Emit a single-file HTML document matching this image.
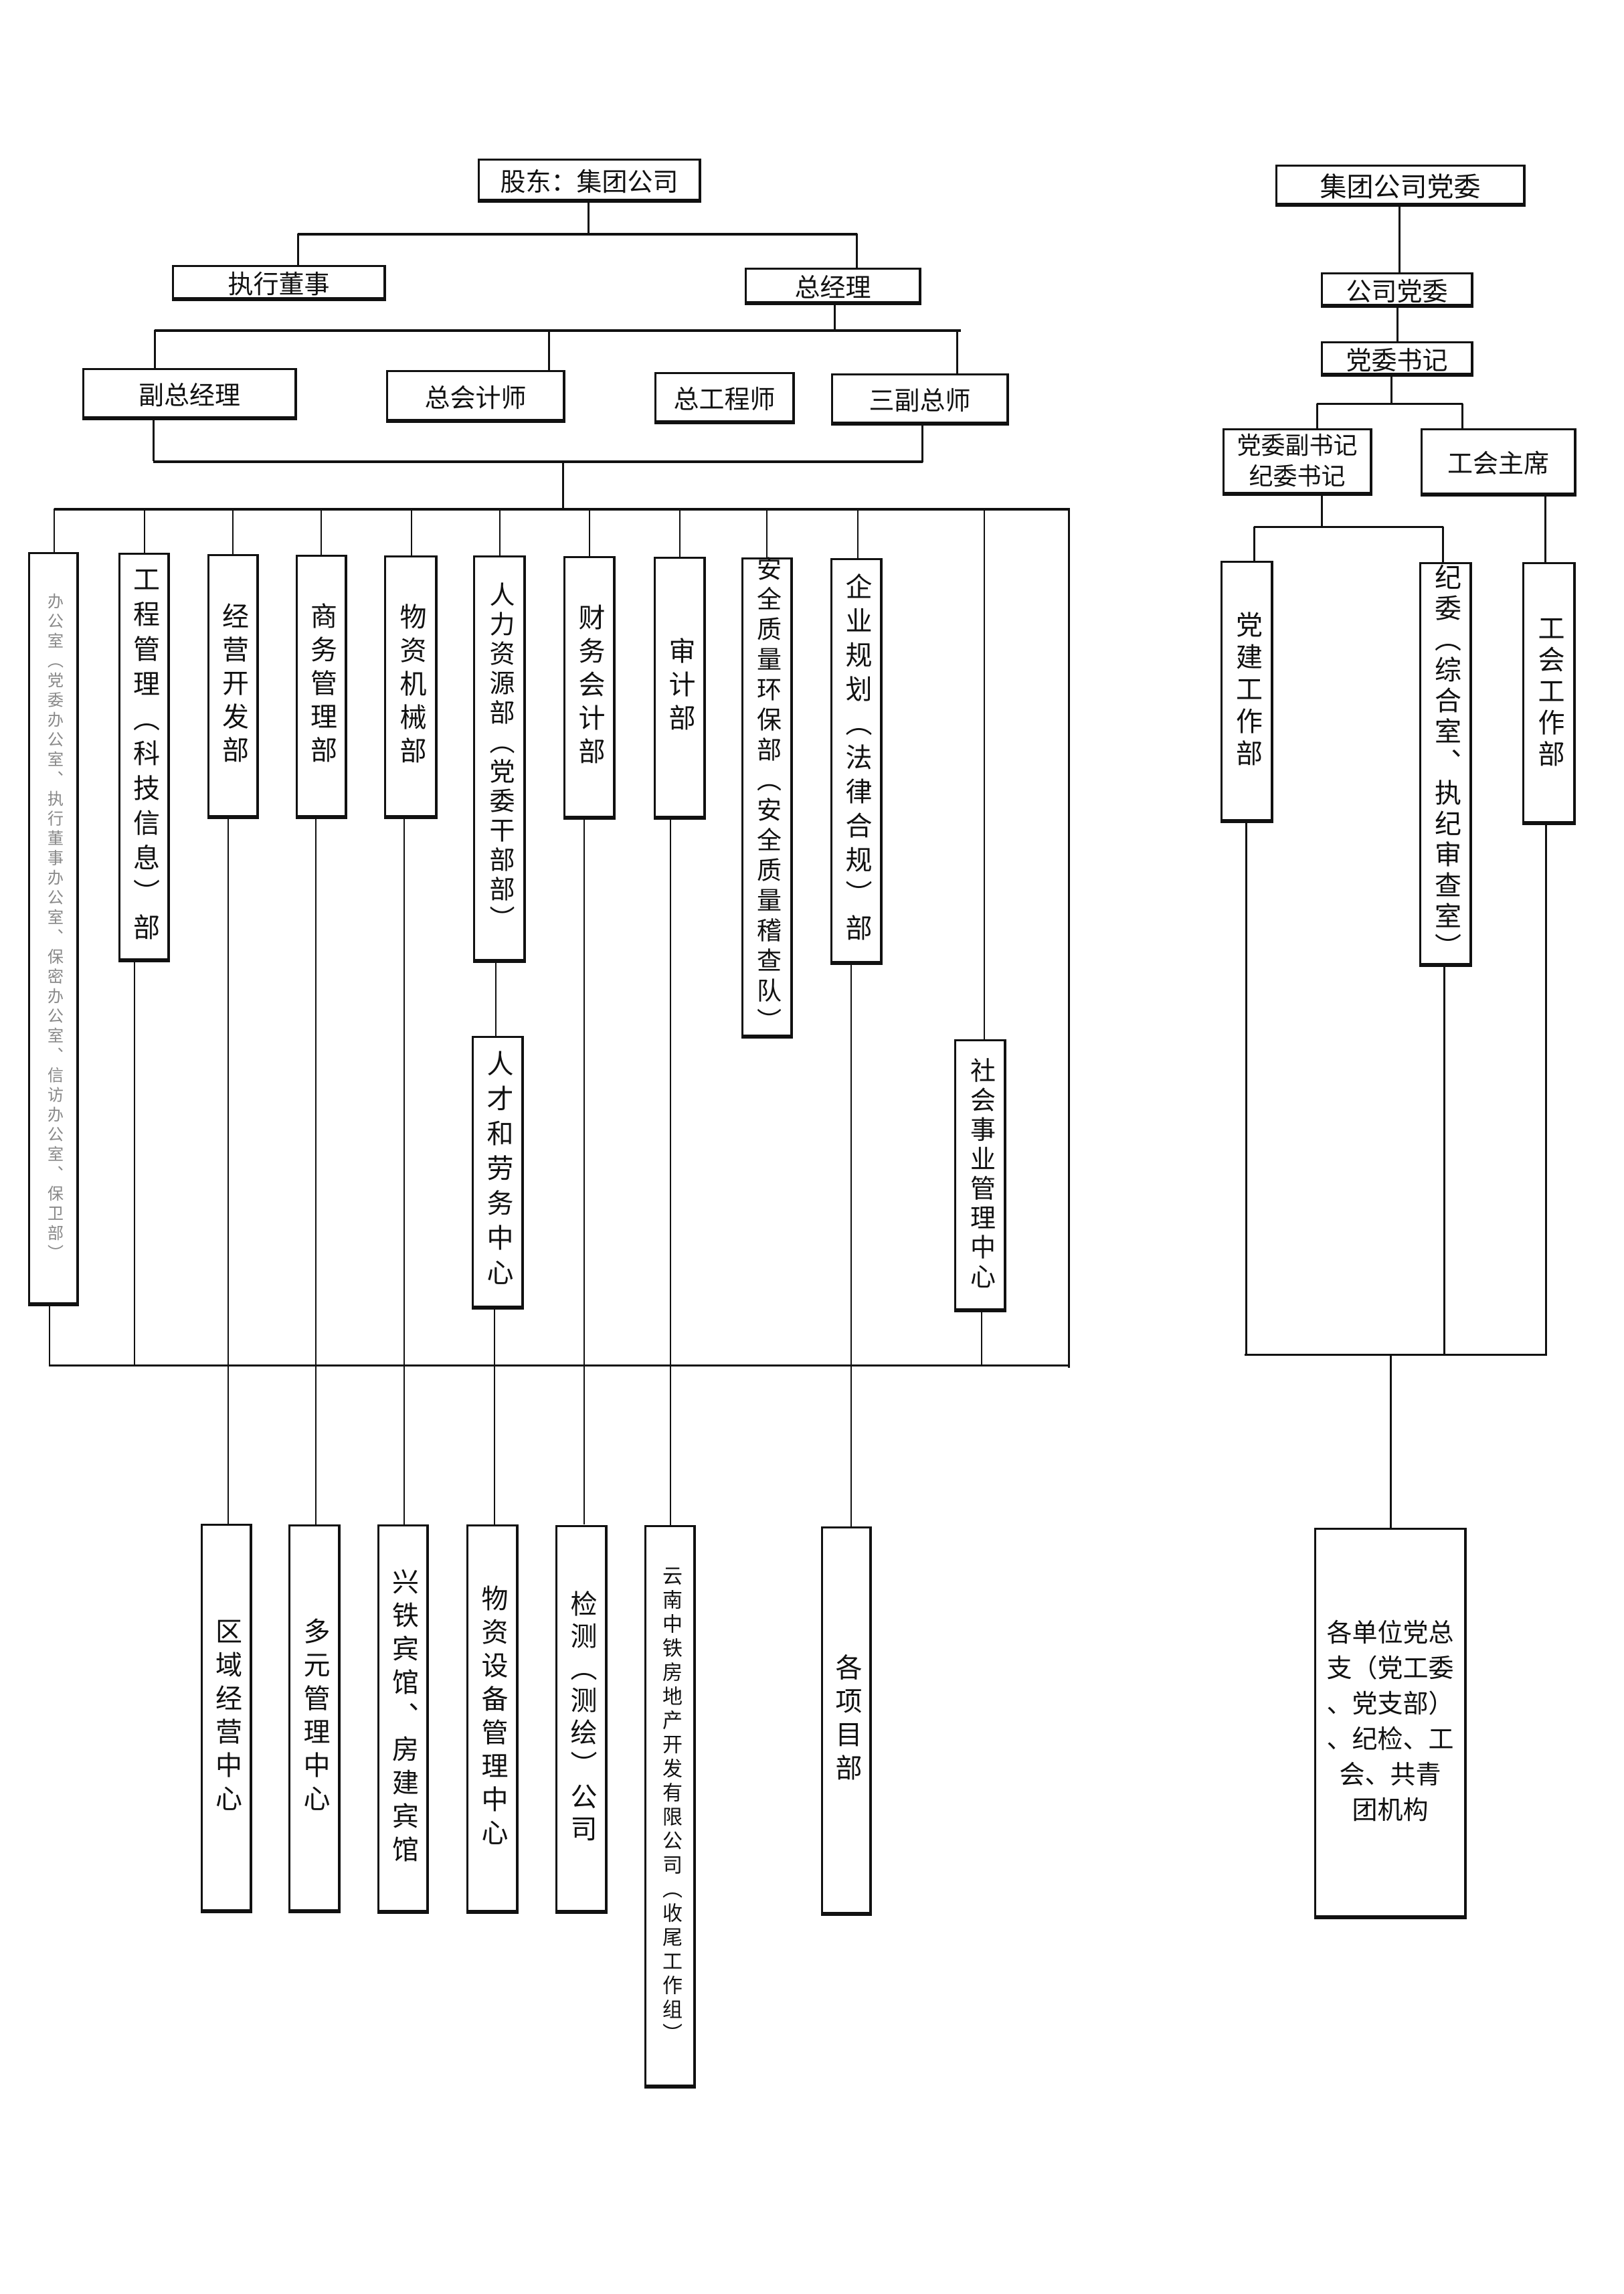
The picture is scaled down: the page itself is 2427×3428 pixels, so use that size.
<!DOCTYPE html>
<html><head><meta charset="utf-8">
<style>
html,body{margin:0;padding:0;background:#fff;}
body{width:2427px;height:3428px;position:relative;overflow:hidden;font-family:"Liberation Sans","Noto Sans CJK SC",sans-serif;color:#111;}
.b{position:absolute;box-sizing:border-box;border:3px solid #111;border-bottom-width:6px;border-right-width:4px;background:#fff;display:flex;align-items:center;justify-content:center;}
.h{font-size:38px;white-space:nowrap;}
.v span{writing-mode:vertical-rl;text-orientation:upright;font-size:40px;letter-spacing:10px;line-height:1;white-space:nowrap;}
.l{position:absolute;background:#111;}
</style></head><body>

<!-- lines left -->
<div class="l" style="left:878px;top:302px;width:3px;height:48px"></div>
<div class="l" style="left:445px;top:348px;width:836px;height:4px"></div>
<div class="l" style="left:444px;top:349px;width:3px;height:48px"></div>
<div class="l" style="left:1279px;top:349px;width:3px;height:52px"></div>
<div class="l" style="left:1246px;top:455px;width:3px;height:39px"></div>
<div class="l" style="left:231px;top:492px;width:1205px;height:4px"></div>
<div class="l" style="left:230px;top:493px;width:3px;height:58px"></div>
<div class="l" style="left:819px;top:493px;width:3px;height:61px"></div>
<div class="l" style="left:1429px;top:493px;width:3px;height:66px"></div>
<div class="l" style="left:228px;top:627px;width:3px;height:62px"></div>
<div class="l" style="left:1377px;top:635px;width:3px;height:56px"></div>
<div class="l" style="left:229px;top:688px;width:1150px;height:4px"></div>
<div class="l" style="left:840px;top:690px;width:3px;height:71px"></div>
<div class="l" style="left:81px;top:759px;width:1518px;height:4px"></div>
<div class="l" style="left:80px;top:760px;width:2px;height:66px"></div>
<div class="l" style="left:215px;top:760px;width:2px;height:68px"></div>
<div class="l" style="left:347px;top:760px;width:2px;height:68px"></div>
<div class="l" style="left:479px;top:760px;width:2px;height:70px"></div>
<div class="l" style="left:614px;top:760px;width:2px;height:70px"></div>
<div class="l" style="left:746px;top:760px;width:2px;height:70px"></div>
<div class="l" style="left:880px;top:760px;width:2px;height:72px"></div>
<div class="l" style="left:1015px;top:760px;width:2px;height:72px"></div>
<div class="l" style="left:1145px;top:760px;width:2px;height:74px"></div>
<div class="l" style="left:1281px;top:760px;width:2px;height:74px"></div>
<div class="l" style="left:1470px;top:760px;width:2px;height:794px"></div>
<div class="l" style="left:1596px;top:760px;width:3px;height:1284px"></div>
<div class="l" style="left:73px;top:1950px;width:2px;height:92px"></div>
<div class="l" style="left:200px;top:1436px;width:2px;height:606px"></div>
<div class="l" style="left:340px;top:1222px;width:2px;height:1056px"></div>
<div class="l" style="left:471px;top:1222px;width:2px;height:1056px"></div>
<div class="l" style="left:603px;top:1222px;width:2px;height:1056px"></div>
<div class="l" style="left:740px;top:1437px;width:2px;height:112px"></div>
<div class="l" style="left:738px;top:1955px;width:2px;height:323px"></div>
<div class="l" style="left:872px;top:1224px;width:2px;height:1054px"></div>
<div class="l" style="left:1001px;top:1224px;width:2px;height:1056px"></div>
<div class="l" style="left:1271px;top:1440px;width:2px;height:842px"></div>
<div class="l" style="left:1466px;top:1959px;width:2px;height:82px"></div>
<div class="l" style="left:74px;top:2039px;width:1525px;height:3px"></div>

<!-- lines right -->
<div class="l" style="left:2090px;top:308px;width:3px;height:100px"></div>
<div class="l" style="left:2087px;top:459px;width:3px;height:52px"></div>
<div class="l" style="left:2078px;top:562px;width:3px;height:42px"></div>
<div class="l" style="left:1968px;top:602px;width:218px;height:3px"></div>
<div class="l" style="left:1967px;top:603px;width:3px;height:38px"></div>
<div class="l" style="left:2184px;top:603px;width:3px;height:38px"></div>
<div class="l" style="left:1974px;top:740px;width:3px;height:48px"></div>
<div class="l" style="left:1874px;top:786px;width:283px;height:3px"></div>
<div class="l" style="left:1873px;top:787px;width:3px;height:52px"></div>
<div class="l" style="left:2155px;top:787px;width:3px;height:54px"></div>
<div class="l" style="left:2308px;top:741px;width:3px;height:100px"></div>
<div class="l" style="left:1861px;top:1228px;width:3px;height:797px"></div>
<div class="l" style="left:2157px;top:1443px;width:3px;height:582px"></div>
<div class="l" style="left:2309px;top:1231px;width:3px;height:794px"></div>
<div class="l" style="left:1860px;top:2023px;width:452px;height:3px"></div>
<div class="l" style="left:2077px;top:2024px;width:3px;height:260px"></div>

<!-- top boxes -->
<div class="b h" style="left:714px;top:237px;width:334px;height:66px">股东：集团公司</div>
<div class="b h" style="left:257px;top:396px;width:320px;height:54px">执行董事</div>
<div class="b h" style="left:1113px;top:400px;width:264px;height:56px">总经理</div>
<div class="b h" style="left:123px;top:550px;width:321px;height:78px">副总经理</div>
<div class="b h" style="left:577px;top:553px;width:268px;height:79px">总会计师</div>
<div class="b h" style="left:978px;top:556px;width:210px;height:78px">总工程师</div>
<div class="b h" style="left:1242px;top:558px;width:266px;height:78px">三副总师</div>

<!-- department boxes -->
<div class="b v" style="left:42px;top:825px;width:76px;height:1127px"><span style="font-size:24px;letter-spacing:5.5px;color:#888">办公室（党委办公室、执行董事办公室、保密办公室、信访办公室、保卫部）</span></div>
<div class="b v" style="left:177px;top:826px;width:77px;height:612px"><span style="letter-spacing:12px">工程管理（科技信息）部</span></div>
<div class="b v" style="left:310px;top:828px;width:77px;height:396px"><span>经营开发部</span></div>
<div class="b v" style="left:442px;top:829px;width:77px;height:395px"><span>商务管理部</span></div>
<div class="b v" style="left:574px;top:830px;width:80px;height:394px"><span>物资机械部</span></div>
<div class="b v" style="left:707px;top:830px;width:79px;height:609px"><span style="font-size:38px;letter-spacing:6px">人力资源部（党委干部部）</span></div>
<div class="b v" style="left:842px;top:831px;width:78px;height:394px"><span>财务会计部</span></div>
<div class="b v" style="left:977px;top:832px;width:78px;height:393px"><span>审计部</span></div>
<div class="b v" style="left:1108px;top:833px;width:77px;height:719px"><span style="font-size:37px;letter-spacing:8px">安全质量环保部（安全质量稽查队）</span></div>
<div class="b v" style="left:1241px;top:834px;width:78px;height:608px"><span style="letter-spacing:11px">企业规划（法律合规）部</span></div>
<div class="b v" style="left:705px;top:1548px;width:78px;height:409px"><span style="letter-spacing:12px">人才和劳务中心</span></div>
<div class="b v" style="left:1426px;top:1553px;width:78px;height:408px"><span style="font-size:38px;letter-spacing:6px">社会事业管理中心</span></div>

<!-- bottom boxes -->
<div class="b v" style="left:300px;top:2277px;width:77px;height:582px"><span>区域经营中心</span></div>
<div class="b v" style="left:431px;top:2278px;width:78px;height:581px"><span>多元管理中心</span></div>
<div class="b v" style="left:564px;top:2278px;width:77px;height:582px"><span>兴铁宾馆、房建宾馆</span></div>
<div class="b v" style="left:697px;top:2278px;width:78px;height:582px"><span>物资设备管理中心</span></div>
<div class="b v" style="left:830px;top:2279px;width:78px;height:581px"><span style="letter-spacing:8px">检测（测绘）公司</span></div>
<div class="b v" style="left:963px;top:2279px;width:77px;height:842px"><span style="font-size:30px;letter-spacing:6px">云南中铁房地产开发有限公司（收尾工作组）</span></div>
<div class="b v" style="left:1227px;top:2281px;width:76px;height:582px"><span>各项目部</span></div>

<!-- right boxes -->
<div class="b h" style="left:1906px;top:246px;width:374px;height:63px;font-size:40px">集团公司党委</div>
<div class="b h" style="left:1974px;top:407px;width:228px;height:53px;font-size:38px">公司党委</div>
<div class="b h" style="left:1974px;top:510px;width:228px;height:53px;font-size:38px">党委书记</div>
<div class="b h" style="left:1827px;top:640px;width:224px;height:101px;font-size:36px;line-height:46px;text-align:center;white-space:normal">党委副书记<br>纪委书记</div>
<div class="b h" style="left:2123px;top:640px;width:233px;height:102px;font-size:38px">工会主席</div>
<div class="b v" style="left:1824px;top:838px;width:79px;height:392px"><span style="letter-spacing:8px">党建工作部</span></div>
<div class="b v" style="left:2121px;top:840px;width:79px;height:605px"><span style="letter-spacing:6px">纪委（综合室、执纪审查室）</span></div>
<div class="b v" style="left:2275px;top:840px;width:80px;height:393px"><span style="letter-spacing:7px">工会工作部</span></div>
<div class="b" style="left:1964px;top:2283px;width:228px;height:585px;font-size:38px;line-height:53px;text-align:center">各单位党总<br>支（党工委<br>、党支部）<br>、纪检、工<br>会、共青<br>团机构</div>

</body></html>
